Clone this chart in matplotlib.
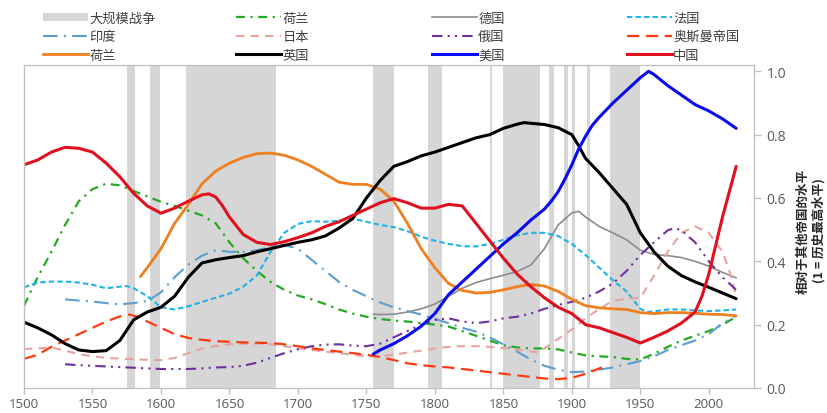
import matplotlib
matplotlib.use("Agg")
import matplotlib.pyplot as plt
from matplotlib.patches import Patch
from matplotlib.lines import Line2D

plt.rcParams['font.family'] = ['Noto Sans CJK SC', 'DejaVu Sans']

# ---- war periods (start, end) ----
war_start = [1575, 1592, 1618, 1755, 1795, 1840, 1850, 1883, 1894, 1900, 1911, 1928]
war_end   = [1581, 1599, 1684, 1770, 1805, 1842, 1877, 1887, 1897, 1902, 1913, 1950]

# ---- series ----
nl_dd_years = [1500,1510,1520,1530,1540,1550,1560,1570,1580,1590,1600,1610,1620,1630,1640,1650,1660,1670,1680,1690,1700,1710,1720,1730,1740,1750,1760,1770,1780,1790,1800,1810,1820,1830,1840,1850,1860,1870,1880,1890,1900,1910,1920,1930,1940,1950,1960,1970,1980,1990,2000,2010,2020]
nl_dd_vals  = [0.26,0.35,0.43,0.515,0.59,0.628,0.645,0.64,0.622,0.605,0.588,0.575,0.56,0.545,0.52,0.46,0.41,0.37,0.335,0.31,0.292,0.28,0.265,0.248,0.235,0.225,0.218,0.213,0.21,0.205,0.2,0.194,0.18,0.165,0.15,0.135,0.128,0.125,0.125,0.122,0.112,0.103,0.1,0.098,0.092,0.09,0.108,0.13,0.15,0.165,0.18,0.2,0.225]

de_years = [1755,1760,1770,1780,1790,1800,1810,1820,1830,1840,1850,1860,1870,1880,1890,1900,1905,1910,1920,1930,1940,1950,1960,1970,1980,1990,2000,2010,2020]
de_vals  = [0.233,0.232,0.233,0.24,0.25,0.265,0.29,0.315,0.333,0.345,0.356,0.368,0.388,0.44,0.515,0.553,0.558,0.54,0.51,0.49,0.468,0.435,0.422,0.418,0.412,0.40,0.385,0.365,0.348]

fr_years = [1500,1510,1520,1530,1540,1550,1560,1570,1575,1580,1590,1600,1610,1620,1630,1640,1650,1660,1670,1680,1690,1700,1710,1720,1730,1740,1750,1760,1770,1780,1790,1800,1810,1820,1830,1840,1850,1860,1870,1880,1890,1900,1910,1920,1930,1940,1950,1955,1960,1970,1980,1990,2000,2010,2020]
fr_vals  = [0.318,0.333,0.336,0.336,0.333,0.326,0.315,0.32,0.322,0.315,0.29,0.255,0.248,0.258,0.272,0.285,0.298,0.32,0.355,0.43,0.49,0.518,0.527,0.525,0.528,0.535,0.525,0.515,0.508,0.495,0.478,0.465,0.455,0.448,0.447,0.455,0.468,0.482,0.49,0.49,0.48,0.455,0.42,0.38,0.34,0.305,0.25,0.24,0.242,0.248,0.248,0.245,0.243,0.245,0.248]

in_years = [1530,1540,1550,1560,1570,1580,1590,1600,1610,1620,1630,1640,1650,1660,1670,1680,1690,1700,1710,1720,1730,1740,1750,1760,1770,1780,1790,1800,1810,1820,1830,1840,1850,1860,1870,1880,1890,1900,1910,1920,1930,1940,1950,1960,1970,1980,1990,2000,2010,2020]
in_vals  = [0.28,0.276,0.273,0.268,0.264,0.268,0.275,0.302,0.35,0.39,0.418,0.435,0.43,0.43,0.435,0.445,0.452,0.44,0.405,0.37,0.335,0.31,0.29,0.27,0.255,0.243,0.232,0.218,0.205,0.19,0.178,0.16,0.138,0.115,0.09,0.07,0.058,0.05,0.052,0.058,0.065,0.075,0.085,0.1,0.12,0.135,0.15,0.17,0.205,0.228]

jp_years = [1500,1510,1520,1530,1540,1550,1560,1570,1580,1590,1600,1610,1620,1630,1640,1650,1660,1670,1680,1690,1700,1710,1720,1730,1740,1750,1760,1770,1780,1790,1800,1810,1820,1830,1840,1850,1860,1870,1876,1880,1890,1900,1910,1920,1930,1940,1950,1960,1970,1980,1990,2000,2010,2015,2020]
jp_vals  = [0.123,0.125,0.128,0.118,0.107,0.10,0.095,0.093,0.091,0.089,0.088,0.095,0.11,0.125,0.133,0.138,0.14,0.14,0.138,0.132,0.125,0.12,0.115,0.11,0.105,0.10,0.10,0.105,0.112,0.118,0.125,0.13,0.132,0.132,0.13,0.126,0.122,0.115,0.113,0.125,0.155,0.185,0.22,0.25,0.275,0.282,0.285,0.355,0.43,0.49,0.51,0.49,0.43,0.37,0.29]

ru_years = [1530,1540,1550,1560,1570,1580,1590,1600,1610,1620,1630,1640,1650,1660,1670,1680,1690,1700,1710,1720,1730,1740,1750,1760,1770,1780,1790,1800,1810,1820,1830,1840,1850,1860,1870,1880,1890,1900,1910,1920,1930,1940,1950,1960,1970,1975,1980,1990,2000,2010,2020]
ru_vals  = [0.075,0.072,0.07,0.068,0.066,0.064,0.062,0.06,0.06,0.06,0.062,0.065,0.066,0.07,0.08,0.095,0.11,0.122,0.132,0.137,0.138,0.134,0.132,0.14,0.16,0.18,0.2,0.215,0.22,0.21,0.205,0.21,0.22,0.225,0.235,0.25,0.262,0.272,0.285,0.305,0.33,0.37,0.42,0.46,0.498,0.505,0.498,0.46,0.40,0.35,0.31]

ot_years = [1500,1510,1520,1530,1540,1550,1560,1570,1577,1585,1590,1600,1610,1620,1630,1640,1650,1660,1670,1680,1690,1700,1710,1720,1730,1740,1750,1760,1770,1780,1790,1800,1810,1820,1830,1840,1850,1860,1870,1880,1890,1900,1910,1922]
ot_vals  = [0.092,0.105,0.13,0.15,0.17,0.19,0.21,0.226,0.232,0.222,0.21,0.19,0.17,0.158,0.152,0.148,0.146,0.144,0.143,0.142,0.138,0.132,0.125,0.12,0.115,0.11,0.105,0.098,0.088,0.078,0.072,0.068,0.065,0.06,0.055,0.05,0.045,0.04,0.035,0.03,0.028,0.032,0.045,0.065]

nl_years = [1585,1590,1600,1610,1620,1630,1640,1650,1660,1670,1680,1690,1700,1710,1720,1730,1740,1750,1760,1770,1780,1790,1800,1810,1820,1830,1840,1850,1860,1870,1880,1890,1900,1910,1920,1930,1940,1950,1960,1970,1980,1990,2000,2010,2020]
nl_vals  = [0.352,0.38,0.44,0.52,0.58,0.645,0.685,0.71,0.728,0.74,0.742,0.735,0.72,0.70,0.675,0.65,0.643,0.643,0.628,0.59,0.52,0.44,0.38,0.33,0.308,0.30,0.302,0.31,0.32,0.327,0.322,0.305,0.28,0.26,0.253,0.25,0.248,0.238,0.235,0.238,0.238,0.236,0.233,0.232,0.228]

gb_years = [1500,1510,1520,1530,1540,1550,1560,1570,1580,1590,1600,1610,1620,1630,1640,1650,1660,1670,1680,1690,1700,1710,1720,1730,1740,1750,1760,1770,1780,1790,1800,1810,1820,1830,1840,1850,1860,1865,1870,1880,1890,1900,1905,1910,1920,1930,1940,1950,1960,1970,1980,1990,2000,2010,2020]
gb_vals  = [0.208,0.19,0.168,0.14,0.12,0.115,0.118,0.15,0.215,0.24,0.255,0.29,0.35,0.395,0.405,0.412,0.418,0.43,0.44,0.45,0.46,0.468,0.48,0.505,0.535,0.60,0.655,0.70,0.715,0.733,0.745,0.76,0.775,0.79,0.80,0.82,0.833,0.838,0.836,0.832,0.822,0.80,0.765,0.725,0.68,0.63,0.58,0.49,0.43,0.385,0.355,0.335,0.318,0.30,0.282]

us_years = [1755,1760,1770,1780,1790,1800,1810,1820,1830,1840,1850,1860,1870,1880,1885,1890,1895,1900,1905,1910,1915,1920,1930,1940,1950,1956,1960,1970,1980,1990,2000,2010,2020]
us_vals  = [0.107,0.12,0.14,0.165,0.195,0.235,0.295,0.335,0.375,0.415,0.455,0.49,0.53,0.565,0.59,0.62,0.66,0.705,0.755,0.795,0.83,0.855,0.90,0.94,0.98,1.0,0.99,0.955,0.925,0.895,0.875,0.85,0.82]

cn_years = [1500,1510,1520,1530,1540,1550,1560,1570,1580,1590,1600,1610,1620,1630,1635,1640,1645,1650,1660,1670,1680,1690,1700,1710,1720,1730,1740,1750,1760,1770,1780,1790,1800,1810,1820,1830,1840,1850,1860,1870,1880,1890,1900,1910,1920,1930,1940,1950,1960,1970,1980,1990,1995,2000,2005,2010,2015,2020]
cn_vals  = [0.705,0.72,0.745,0.76,0.757,0.745,0.71,0.667,0.615,0.575,0.552,0.568,0.59,0.61,0.613,0.603,0.575,0.54,0.485,0.46,0.453,0.462,0.475,0.49,0.51,0.525,0.545,0.565,0.585,0.598,0.585,0.568,0.568,0.58,0.575,0.52,0.465,0.41,0.36,0.32,0.285,0.255,0.235,0.20,0.19,0.175,0.16,0.142,0.16,0.18,0.205,0.24,0.29,0.36,0.45,0.54,0.62,0.70]

y_ticks = [0.0, 0.2, 0.4, 0.6, 0.8, 1.0]
x_ticks = [1500, 1550, 1600, 1650, 1700, 1750, 1800, 1850, 1900, 1950, 2000]

fig = plt.figure(figsize=(8.27, 4.14), dpi=100)
ax = fig.add_axes([24/827, 1-389/414, (754-24)/827, (389-66)/414])

WAR = '#D6D6D6'
for s, e in zip(war_start, war_end):
    ax.axvspan(s, e, color=WAR, lw=0, zorder=0)

series = [
    # (years, vals, color, lw, dashes)
    (nl_dd_years, nl_dd_vals, '#22AA22', 1.6, (4, 2.5, 1, 2.5)),
    (de_years, de_vals, '#8C8C8C', 1.2, None),
    (fr_years, fr_vals, '#1DB3E8', 1.5, (2.6, 1.5)),
    (in_years, in_vals, '#5A9FD0', 1.5, (7, 3, 1, 3)),
    (jp_years, jp_vals, '#E8A3A0', 1.5, (4, 3)),
    (ru_years, ru_vals, '#7030A0', 1.5, (5, 2.5, 1, 2.5, 1, 2.5)),
    (ot_years, ot_vals, '#FF3A10', 1.6, (5.5, 3)),
    (nl_years, nl_vals, '#F07F1E', 2.0, None),
    (gb_years, gb_vals, '#000000', 2.2, None),
    (us_years, us_vals, '#0A0AF0', 2.2, None),
    (cn_years, cn_vals, '#E0101E', 2.2, None),
]
handles = []
for yrs, vals, col, lw, dsh in series:
    ln, = ax.plot(yrs, vals, color=col, lw=lw, solid_capstyle='round', solid_joinstyle='round')
    if dsh is not None:
        ln.set_dashes(dsh)
    h = Line2D([], [], color=col, lw=lw)
    if dsh is not None:
        h.set_dashes(dsh)
    handles.append(h)

ax.set_xlim(1500, 2033)
ax.set_ylim(0, 1.02)
ax.set_xticks(x_ticks)
ax.set_yticks(y_ticks)
ax.set_yticklabels([f'{v:.1f}' for v in y_ticks])
ax.yaxis.tick_right()
SP = '#BFBFBF'
for sp in ax.spines.values():
    sp.set_color(SP)
    sp.set_linewidth(0.9)
ax.tick_params(axis='x', direction='out', length=4, width=0.9, color=SP, labelcolor='#595959', labelsize=9.5, pad=2.5)
ax.tick_params(axis='y', direction='out', length=5, width=0.9, color=SP, labelcolor='#595959', labelsize=10, pad=4)
for lab in ax.get_xticklabels() + ax.get_yticklabels():
    lab.set_family(['Open Sans', 'DejaVu Sans'])

fig.text(811/827, 1-231/414, '相对于其他帝国的水平\n(1 = 历史最高水平)', rotation=90,
         ha='center', va='center', multialignment='center', fontsize=9, fontweight='bold',
         color='#262626', linespacing=1.25)

# legend in 4 columns
war_handle = Patch(facecolor=WAR, edgecolor='none')
h = handles
cols = [
    ([war_handle, h[3], h[7]], ['大规模战争', '印度', '荷兰']),
    ([h[0], h[4], h[8]], ['荷兰', '日本', '英国']),
    ([h[1], h[5], h[9]], ['德国', '俄国', '美国']),
    ([h[2], h[6], h[10]], ['法国', '奥斯曼帝国', '中国']),
]
xs = [43, 236, 432, 627]
for (hh, ll), x in zip(cols, xs):
    fig.legend(hh, ll, loc='upper left', bbox_to_anchor=(x/827, 1-12.5/414), frameon=False,
               borderpad=0, borderaxespad=0, handlelength=3.4, handletextpad=0.1,
               labelspacing=0.42, fontsize=9.5, labelcolor='#404040', handleheight=0.6)

fig.savefig('out.png', dpi=100)
